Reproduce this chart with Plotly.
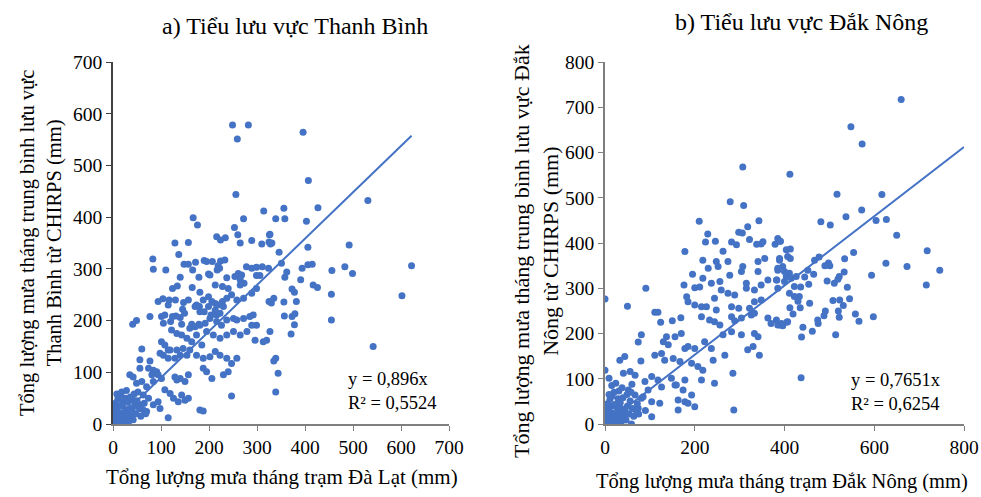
import plotly.graph_objects as go

# ---------- Data: panel a) Thanh Bình ----------
a_pts = [
(249,578),(282,578),(259,551),(256,444),(167,399),(176,385),(314,412),(272,397),(339,397),(253,380),(260,366),(326,366),
(216,362),(224,356),(234,360),(289,355),(129,350),(157,351),(265,350),(310,348),(325,352),(328,348),
(396,564),(407,471),(531,432),(356,417),(427,418),(358,397),(403,392),(327,367),(492,346),
(331,350),(346,332),(406,342),(351,311),(394,301),(406,308),(415,309),(456,297),(483,304),(499,291),(622,306),(362,294),
(358,284),(391,279),(417,269),(426,264),(373,261),(378,255),(455,251),(602,248),(335,243),(325,237),(356,236),(330,234),
(382,237),(357,209),(373,208),(379,213),(378,192),(455,201),(371,174),(542,150),(327,179),(339,127),(335,122),(344,98),(339,62),
(83,319),(84,299),(110,298),(137,328),(148,309),(157,309),(172,313),(190,316),(195,314),(166,298),(140,284),(179,284),
(124,262),(134,267),(165,264),(181,255),(199,290),(202,288),(217,298),(222,301),(224,315),(237,283),(213,269),(228,266),
(240,262),(94,237),(104,242),(117,240),(130,240),(147,235),(157,240),(115,230),(77,208),(101,208),(108,211),(124,208),
(131,209),(140,206),(41,193),(49,200),(105,195),(120,198),(122,182),(143,193),(164,193),(179,193),(145,222),(149,214),
(174,230),(180,227),(190,217),(204,211),(216,211),(223,214),(207,314),(219,306),(233,317),
(254,285),(261,291),(268,288),(278,304),(289,301),(299,303),(311,304),(299,287),(306,287),(324,301),(265,279),(273,272),
(265,269),(247,250),(258,240),(272,243),(289,253),(299,262),(237,243),(228,237),(213,233),(199,246),(206,237),(188,240),
(219,230),(230,227),(213,220),(199,227),(181,217),(171,227),(251,204),(258,201),(272,204),(285,208),(292,211),(299,191),
(289,191),(237,201),(226,191),(216,198),(202,204),(192,195),(181,191),(171,188),(160,185),(195,179),(209,172),(223,166),
(237,172),(251,179),(265,172),(279,179),(296,162),(313,159),(320,162),(133,175),(143,172),(154,166),(164,159),(174,172),
(185,153),(101,159),(108,153),(115,143),(98,137),(105,133),(119,143),(133,143),(146,146),(160,143),(154,133),(140,133),
(129,127),(115,127),(174,133),(188,127),(202,130),(213,140),(223,133),(237,127),(247,117),(258,127),(60,145),(56,124),
(77,122),(188,108),(195,101),(206,88),(230,95),(240,101),(157,95),(150,82),(140,88),(129,91),(133,85),(35,95),(42,91),
(56,108),(74,108),(84,104),(91,101),(81,95),(94,95),(49,79),(60,82),(70,72),(84,82),(101,88),(108,66),(119,59),(126,50),
(143,56),(150,46),(136,43),(157,50),(181,27),(188,25),(247,54),(115,12),(63,56),(74,50),(84,37),(94,43),(98,30),(70,24),
(56,37),(42,46),(32,43),(21,43),(15,56),
(0,0),(2,5),(5,2),(3,10),(8,4),(10,12),(12,6),(6,18),(15,10),(18,20),(20,5),(4,25),(8,30),(12,22),(22,15),(25,28),(28,10),
(30,20),(16,35),(5,40),(10,48),(20,38),(35,30),(38,15),(40,25),(45,35),(48,20),(26,50),(14,55),(30,42),(50,45),(55,30),
(58,15),(42,8),(33,5),(62,28),(3,15),(7,8),(1,30),(24,2),(10,0),(17,3),(36,52),(18,62),(8,58),(44,58),(52,62),(65,40),
(68,20),(28,65),
]
a_x = [p[0] for p in a_pts]
a_y = [p[1] for p in a_pts]
a_slope = 0.896
a_line_x = [0, 622]

# ---------- Data: panel b) Đắk Nông ----------
b_pts = [
(307,568),(279,491),(309,483),(210,448),(343,449),(229,420),(246,404),(224,402),(282,402),(293,396),(298,424),(306,422),
(318,436),(322,408),(338,397),(348,398),(379,397),(391,404),
(660,717),(548,657),(573,619),(412,552),(517,508),(617,507),(572,473),(481,447),(502,440),(537,458),(604,450),(627,452),(650,417),
(718,383),(626,355),(673,348),(746,340),(594,329),(716,307),(554,379),(534,365),(498,356),(501,350),(490,350),(477,369),
(467,362),(452,340),(465,331),(445,325),(533,336),(522,326),(519,320),(511,311),(540,302),(495,316),(454,309),(436,303),
(508,273),(523,274),(545,277),(531,262),(520,250),(522,236),(558,243),(566,227),(598,237),(514,197),(491,250),(488,239),
(474,230),(475,222),(462,205),(441,214),(438,192),(456,267),(435,257),(419,243),(412,257),(405,225),(437,102),
(385,410),(390,404),(404,385),(413,387),(389,366),(407,370),(413,366),(396,348),(400,337),(411,333),(385,340),(383,318),
(400,315),(404,326),(415,322),(426,326),(422,304),(411,289),(422,282),(433,282),(430,271),(382,230),(389,219),(396,217),(407,226),
(0,276),(50,260),(91,300),(178,381),(352,403),
(263,382),(218,362),(230,344),(248,359),(274,359),(252,348),(307,348),(304,337),(341,359),(356,366),(389,362),(341,337),(385,344),
(195,331),(218,322),(237,311),(256,315),(278,329),(259,296),(244,278),(274,289),(289,285),(315,311),(315,300),(333,296),
(348,307),(363,318),(382,318),(385,300),
(176,307),(200,301),(211,303),(182,281),(185,270),(200,263),(215,259),(226,259),(248,252),(282,259),(298,256),(322,256),
(333,270),(348,274),
(111,247),(118,247),(124,225),(150,228),(169,235),(215,237),(233,230),(244,226),(256,219),(282,237),(289,228),(304,234),
(326,241),(333,245),(363,234),(370,222),(385,219),(393,222),
(81,197),(74,181),(137,193),(156,193),(170,200),(130,182),(141,175),(185,171),(200,167),(222,182),(237,167),(263,197),
(282,204),(304,197),(333,200),(341,193),(318,164),(330,171),(344,152),
(33,141),(44,149),(80,139),(111,152),(126,156),(133,141),(152,145),(167,138),(178,167),(193,134),(207,127),(218,119),
(241,141),(267,152),(244,90),(215,97),(178,97),(156,86),(285,112),
(0,119),(9,101),(24,90),(41,112),(56,116),(67,108),(89,94),(104,105),(118,97),(96,75),(126,82),(148,101),(159,86),
(174,75),(193,64),(163,53),(178,49),(185,46),(200,38),(163,31),
(52,75),(67,64),(81,57),(104,49),(122,46),(74,35),(104,16),(59,0),(44,20),(33,35),(287,31),
(0,0),(2,6),(6,2),(4,12),(9,5),(12,14),(14,7),(7,20),(17,12),(20,22),(23,6),(5,28),(9,34),(14,25),(25,17),(28,31),(31,11),
(34,22),(18,40),(6,45),(11,54),(22,43),(39,33),(43,17),(45,28),(50,40),(54,22),(29,56),(16,62),(34,47),(56,51),(61,34),
(64,17),(47,9),(37,6),(69,31),(3,17),(8,9),(1,34),(27,2),(11,0),(19,3),(40,58),(20,70),(9,65),(49,65),(58,70),(72,45),
(75,22),(31,73),(15,85),(38,80),(60,88),(85,60),(90,30),
]
b_x = [p[0] for p in b_pts]
b_y = [p[1] for p in b_pts]
b_slope = 0.7651
b_line_x = [0, 800]

BLUE = "#4472C4"
FONT = "Liberation Serif"

fig = go.Figure()
fig.add_trace(go.Scatter(x=a_x, y=a_y, mode="markers", xaxis="x", yaxis="y",
                         marker=dict(color=BLUE, size=7), showlegend=False))
fig.add_trace(go.Scatter(x=a_line_x, y=[a_slope * v for v in a_line_x], mode="lines", xaxis="x", yaxis="y",
                         line=dict(color=BLUE, width=2), showlegend=False))
fig.add_trace(go.Scatter(x=b_x, y=b_y, mode="markers", xaxis="x2", yaxis="y2",
                         marker=dict(color=BLUE, size=7), showlegend=False))
fig.add_trace(go.Scatter(x=b_line_x, y=[b_slope * v for v in b_line_x], mode="lines", xaxis="x2", yaxis="y2",
                         line=dict(color=BLUE, width=2), showlegend=False))

W, H = 981, 497
ydom = [1 - 424 / H, 1 - 62 / H]
axis_common = dict(showgrid=False, zeroline=False, showline=True, linewidth=1.5,
                   ticks="outside", ticklen=5, tickwidth=1, automargin=False,
                   tickfont=dict(family=FONT, size=19.5, color="black"))

fig.update_layout(
    width=W, height=H, margin=dict(l=0, r=0, t=0, b=0, autoexpand=False),
    paper_bgcolor="white", plot_bgcolor="white",
    font=dict(family=FONT, color="black"),
    xaxis=dict(domain=[113 / W, 449 / W], range=[0, 700], dtick=100, anchor="y",
               linecolor="#7f7f7f", tickcolor="#7f7f7f", **axis_common),
    yaxis=dict(domain=ydom, range=[0, 700], dtick=100, anchor="x",
               linecolor="#404040", tickcolor="#404040", **axis_common),
    xaxis2=dict(domain=[605 / W, 964 / W], range=[0, 800], dtick=200, anchor="y2",
                linecolor="#7f7f7f", tickcolor="#7f7f7f", **axis_common),
    yaxis2=dict(domain=ydom, range=[0, 800], dtick=100, anchor="x2",
                linecolor="#7f7f7f", tickcolor="#7f7f7f", **axis_common),
)

def ann(text, x, y, size=18, angle=0, xanchor="center", yanchor="middle", align="center"):
    fig.add_annotation(text=text, x=x / W, y=1 - y / H, xref="paper", yref="paper",
                       showarrow=False, textangle=angle, xanchor=xanchor, yanchor=yanchor,
                       align=align, font=dict(family=FONT, size=size, color="black"))

ann("a) Tiểu lưu vực Thanh Bình", 295, 26, size=24)
ann("b) Tiểu lưu vực Đắk Nông", 801, 22, size=24)
ann("Tổng lượng mưa tháng trạm Đà Lạt (mm)", 282, 477, size=21)
ann("Tổng lượng mưa tháng trạm Đắk Nông (mm)", 782, 481, size=20.5)
ann("Tổng lượng mưa tháng trung bình lưu vực<br>Thanh Bình từ CHIRPS (mm)", 41, 243, size=20.5, angle=-90)
ann("Tổng lượng mưa tháng trung bình lưu vực Đắk<br>Nông từ CHIRPS (mm)", 536, 251, size=22, angle=-90)
ann("y = 0,896x<br>R² = 0,5524", 438, 391, size=18.5, xanchor="right", align="left")
ann("y = 0,7651x<br>R² = 0,6254", 943, 392, size=18.5, xanchor="right", align="left")

fig.write_html("out.html")
